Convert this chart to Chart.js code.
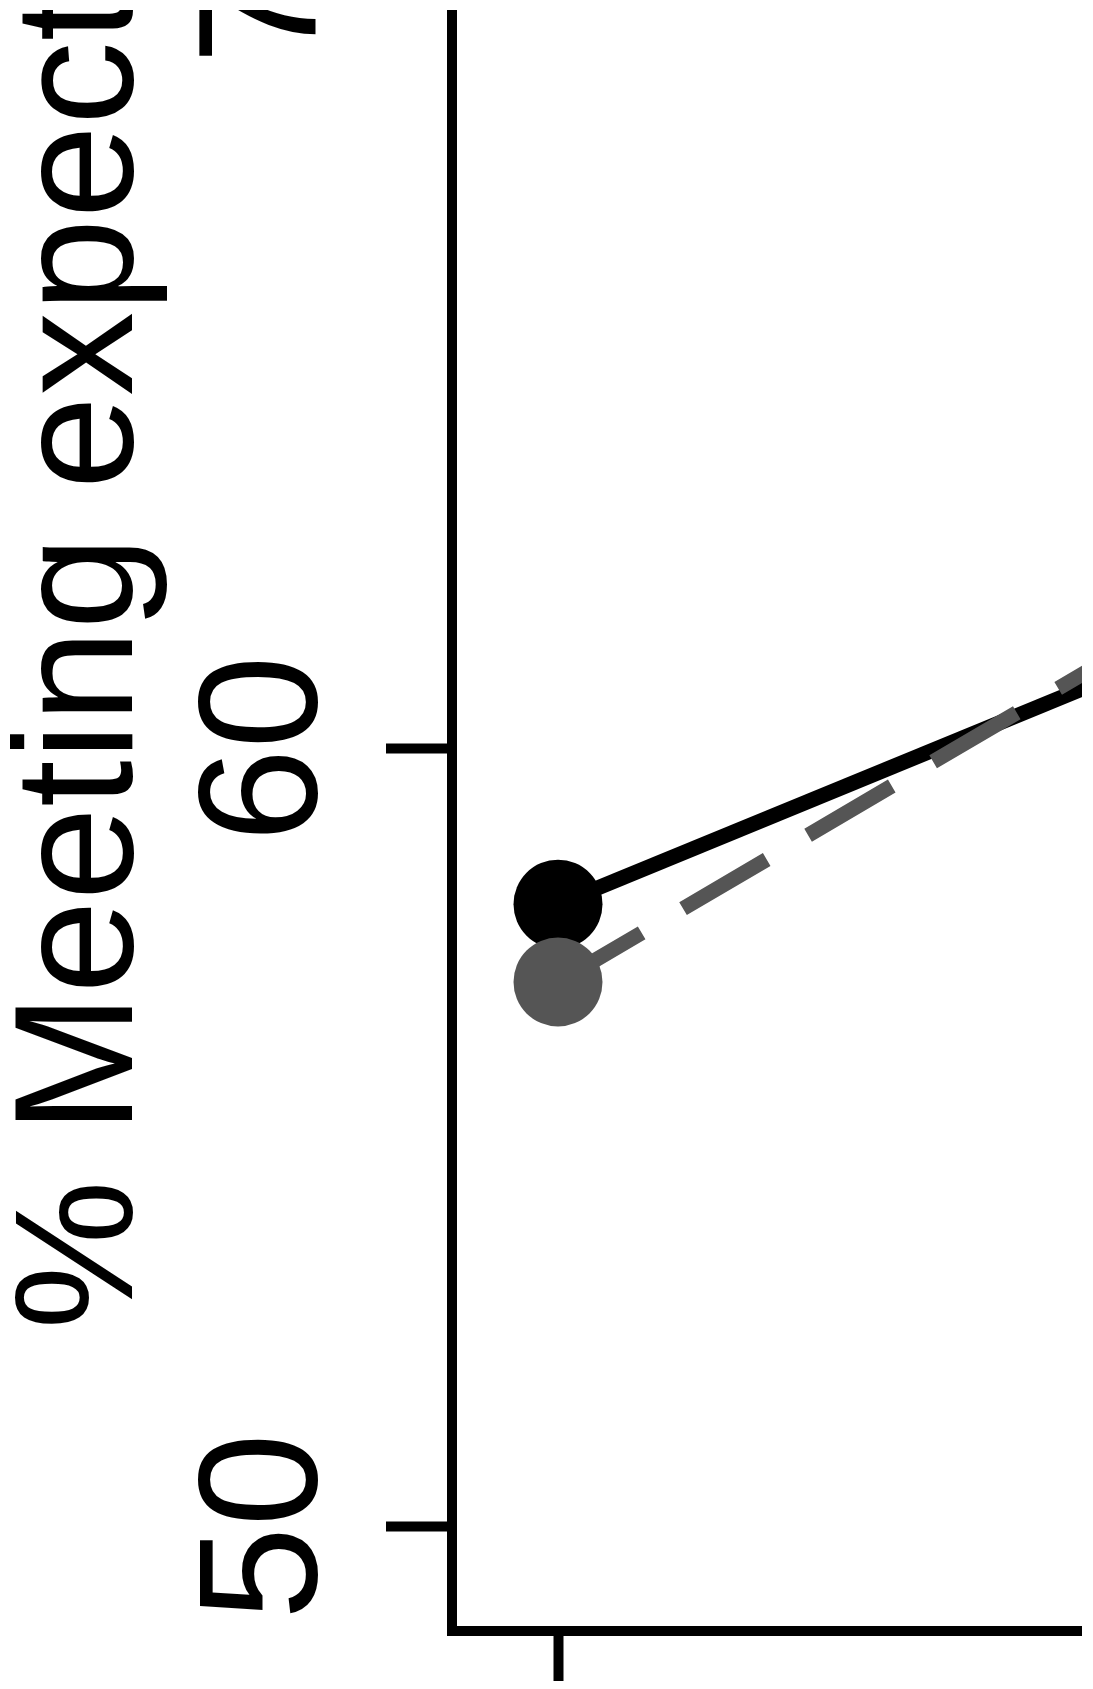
<!DOCTYPE html>
<html>
<head>
<meta charset="utf-8">
<script src="https://cdn.jsdelivr.net/npm/chart.js@4"></script>
<style>
  html, body { margin: 0; padding: 0; background: #fff; overflow: hidden; }
  body { width: 1093px; height: 1689px; position: relative; }
  /* the picture is a crop of a bigger plot, with a thin white frame */
  #frame { position: absolute; left: 10px; top: 10px; width: 1072px; height: 1671px; overflow: hidden; background: #fff; }
  #chart { position: absolute; left: -10px; top: -910px; }
</style>
</head>
<body>
<div id="frame"><canvas id="chart" width="1400" height="2701"></canvas></div>
<script>
// data
const categories = [1, 2];
const seriesSolid = [58, 61.5];   // black, solid line
const seriesDashed = [57, 62];    // grey, dashed line
const yTicks = [50, 60, 70];
const yTitle = '% Meeting expectations';

const FONT = "'Liberation Sans', Arial, Helvetica, sans-serif";

function points(values) {
    return categories.map((c, i) => ({ x: c, y: values[i] }));
}

new Chart(document.getElementById('chart'), {
    type: 'line',
    data: {
        datasets: [
            {
                label: 'Dashed',
                data: points(seriesDashed),
                borderColor: '#555555',
                backgroundColor: '#555555',
                borderWidth: 15,
                borderDash: [97, 48],
                borderCapStyle: 'butt',
                pointRadius: 44.5,
                pointBorderWidth: 0,
                tension: 0,
                order: 0
            },
            {
                label: 'Solid',
                data: points(seriesSolid),
                borderColor: '#000000',
                backgroundColor: '#000000',
                borderWidth: 15,
                pointRadius: 44.5,
                pointBorderWidth: 0,
                tension: 0,
                order: 1
            }
        ]
    },
    options: {
        responsive: false,
        animation: false,
        devicePixelRatio: 1,
        layout: { autoPadding: false, padding: { top: 145, left: 0, right: 0, bottom: 0 } },
        plugins: {
            legend: { display: false },
            tooltip: { enabled: false }
        },
        scales: {
            x: {
                type: 'linear',
                min: 0.84,
                max: 2.2709,
                afterBuildTicks: scale => { scale.ticks = categories.map(v => ({ value: v })); },
                afterFit: scale => { scale.height = 170; },
                ticks: { display: false },
                grid: {
                    drawOnChartArea: false,
                    drawTicks: true,
                    tickLength: 50,
                    tickWidth: 10,
                    tickColor: '#000'
                },
                border: { display: true, width: 10, color: '#000' }
            },
            y: {
                type: 'linear',
                min: 48.657,
                max: 79.33,
                afterBuildTicks: scale => { scale.ticks = yTicks.map(v => ({ value: v })); },
                afterFit: scale => { scale.width = 452; },
                ticks: {
                    autoSkip: false,
                    minRotation: 90,
                    maxRotation: 90,
                    crossAlign: 'center',
                    padding: 23,
                    color: '#000',
                    font: { family: FONT, size: 168 }
                },
                grid: {
                    drawOnChartArea: false,
                    drawTicks: true,
                    tickLength: 66,
                    tickWidth: 10,
                    tickColor: '#000'
                },
                border: { display: true, width: 10, color: '#000' },
                title: {
                    display: true,
                    text: yTitle,
                    color: '#000',
                    padding: 0,
                    font: { family: FONT, size: 168, lineHeight: 1.024 }
                }
            }
        }
    }
});
</script>
</body>
</html>
